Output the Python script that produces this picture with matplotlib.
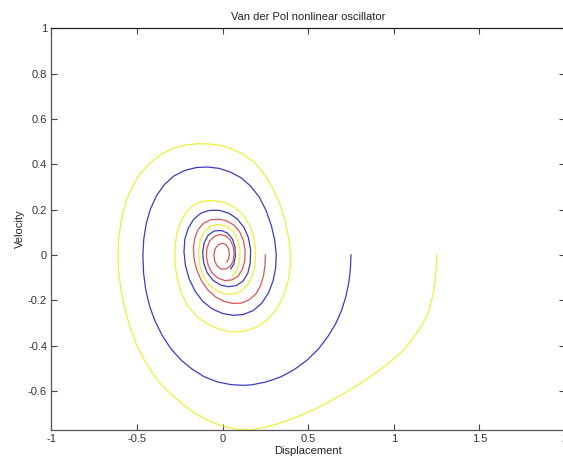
"""Van der Pol nonlinear oscillator: phase portrait of three trajectories."""

import matplotlib
matplotlib.use("Agg")
import matplotlib.pyplot as plt

# Trajectory (displacement, velocity)
yellow_x = [1.250, 1.249, 1.243, 1.230, 1.212, 1.186, 1.146, 1.102, 1.057, 0.990, 0.920,
            0.826, 0.726, 0.630, 0.530, 0.430, 0.336, 0.250, 0.160, 0.080, 0.000,
            -0.085, -0.160, -0.230, -0.300, -0.360, -0.410, -0.455, -0.500, -0.540, -0.570,
            -0.592, -0.605, -0.610, -0.605, -0.590, -0.562, -0.525, -0.480, -0.425, -0.360,
            -0.290, -0.215, -0.140, -0.090, -0.020, 0.050, 0.120, 0.185, 0.240, 0.290,
            0.330, 0.362, 0.385, 0.396, 0.396, 0.383, 0.355, 0.315, 0.260, 0.195,
            0.125, 0.060, -0.010, -0.080, -0.145, -0.200, -0.240, -0.265, -0.278, -0.278,
            -0.268, -0.245, -0.210, -0.165, -0.110, -0.050, 0.010, 0.070, 0.120, 0.158,
            0.182, 0.193, 0.190, 0.175, 0.148, 0.110, 0.065, 0.015, -0.035, -0.080,
            -0.115, -0.135, -0.140, -0.130, -0.105, -0.068, -0.025, 0.020, 0.060, 0.088,
            0.102, 0.100, 0.085, 0.058]
yellow_y = [0.000, -0.050, -0.110, -0.170, -0.230, -0.280, -0.333, -0.378, -0.419, -0.465, -0.507,
            -0.556, -0.603, -0.645, -0.684, -0.716, -0.742, -0.760, -0.772, -0.768, -0.755,
            -0.730, -0.700, -0.660, -0.615, -0.570, -0.520, -0.465, -0.400, -0.320, -0.240,
            -0.160, -0.080, 0.000, 0.080, 0.160, 0.240, 0.305, 0.360, 0.405, 0.443,
            0.470, 0.485, 0.491, 0.490, 0.485, 0.470, 0.445, 0.410, 0.360, 0.300,
            0.235, 0.160, 0.080, 0.010, -0.050, -0.115, -0.182, -0.240, -0.287, -0.320,
            -0.337, -0.340, -0.330, -0.308, -0.275, -0.228, -0.170, -0.105, -0.035, 0.030,
            0.090, 0.145, 0.190, 0.222, 0.238, 0.240, 0.232, 0.212, 0.178, 0.132,
            0.078, 0.020, -0.040, -0.090, -0.130, -0.158, -0.172, -0.172, -0.158, -0.130,
            -0.090, -0.040, 0.015, 0.065, 0.105, 0.128, 0.135, 0.128, 0.105, 0.070,
            0.025, -0.025, -0.065, -0.092]

blue_x = [0.750, 0.747, 0.738, 0.720, 0.695, 0.660, 0.615, 0.560, 0.495, 0.420,
          0.340, 0.255, 0.170, 0.120, 0.050, -0.030, -0.105, -0.175, -0.240, -0.300,
          -0.350, -0.392, -0.425, -0.448, -0.461, -0.465, -0.460, -0.445, -0.420, -0.385,
          -0.340, -0.285, -0.220, -0.150, -0.085, -0.020, 0.045, 0.110, 0.165, 0.215,
          0.255, 0.285, 0.305, 0.314, 0.310, 0.295, 0.268, 0.230, 0.180, 0.120,
          0.060, 0.000, -0.060, -0.115, -0.160, -0.195, -0.217, -0.225, -0.220, -0.200,
          -0.168, -0.125, -0.075, -0.020, 0.035, 0.085, 0.125, 0.152, 0.164, 0.162,
          0.148, 0.120, 0.080, 0.035, -0.010, -0.055, -0.090, -0.110, -0.116, -0.107,
          -0.083, -0.048, -0.008, 0.030, 0.058, 0.073, 0.075, 0.066, 0.048]
blue_y = [0.000, -0.060, -0.120, -0.185, -0.245, -0.305, -0.360, -0.415, -0.463, -0.505,
          -0.538, -0.560, -0.573, -0.575, -0.572, -0.560, -0.538, -0.505, -0.465, -0.415,
          -0.358, -0.295, -0.228, -0.155, -0.080, 0.000, 0.070, 0.140, 0.205, 0.262,
          0.310, 0.348, 0.373, 0.386, 0.388, 0.382, 0.366, 0.340, 0.303, 0.255,
          0.195, 0.130, 0.065, 0.000, -0.060, -0.115, -0.168, -0.212, -0.245, -0.263,
          -0.266, -0.258, -0.238, -0.205, -0.160, -0.105, -0.045, 0.015, 0.070, 0.118,
          0.158, 0.185, 0.197, 0.197, 0.185, 0.160, 0.122, 0.075, 0.020, -0.035,
          -0.080, -0.115, -0.135, -0.140, -0.133, -0.112, -0.078, -0.035, 0.012, 0.055,
          0.088, 0.106, 0.108, 0.096, 0.070, 0.035, -0.005, -0.040, -0.062]

red_x = [0.250, 0.248, 0.240, 0.222, 0.195, 0.155, 0.110, 0.060, 0.010, -0.040,
         -0.085, -0.122, -0.150, -0.166, -0.170, -0.162, -0.142, -0.110, -0.070, -0.025,
         0.020, 0.065, 0.100, 0.122, 0.132, 0.130, 0.116, 0.090, 0.055, 0.015,
         -0.025, -0.060, -0.083, -0.094, -0.091, -0.075, -0.048, -0.015, 0.018, 0.045,
         0.062, 0.068, 0.062, 0.045, 0.020, -0.008, -0.032, -0.046, -0.050, -0.043,
         -0.025, -0.002, 0.020, 0.035, 0.040, 0.034, 0.025]
red_y = [0.000, -0.045, -0.090, -0.135, -0.172, -0.198, -0.212, -0.214, -0.205, -0.185,
         -0.155, -0.115, -0.068, -0.018, 0.030, 0.075, 0.113, 0.140, 0.155, 0.158,
         0.152, 0.133, 0.103, 0.064, 0.020, -0.025, -0.064, -0.094, -0.110, -0.113,
         -0.103, -0.080, -0.047, -0.008, 0.030, 0.062, 0.082, 0.090, 0.085, 0.066,
         0.038, 0.005, -0.027, -0.050, -0.062, -0.062, -0.048, -0.025, 0.002, 0.028,
         0.045, 0.052, 0.046, 0.028, 0.004, -0.018, -0.032]

x_ticks = [-1, -0.5, 0, 0.5, 1, 1.5, 2]
x_tick_labels = ["-1", "-0.5", "0", "0.5", "1", "1.5", "2"]
y_ticks = [-0.6, -0.4, -0.2, 0, 0.2, 0.4, 0.6, 0.8, 1]
y_tick_labels = ["-0.6", "-0.4", "-0.2", "0", "0.2", "0.4", "0.6", "0.8", "1"]

plt.rcParams["font.family"] = ["Liberation Sans", "DejaVu Sans"]
plt.rcParams["axes.unicode_minus"] = False

fig = plt.figure(figsize=(5.63, 4.62), dpi=100)
ax = fig.add_axes([0.0911, 0.0693, 0.9124, 0.8695])

ax.plot(yellow_x, yellow_y, color="#f0ee3a", linewidth=0.9)
ax.plot(blue_x, blue_y, color="#3c3cbc", linewidth=0.9)
ax.plot(red_x, red_y, color="#d65656", linewidth=0.9)

ax.set_xlim(-1, 2)
ax.set_ylim(-0.772, 1)
ax.set_xticks(x_ticks)
ax.set_xticklabels(x_tick_labels)
ax.set_yticks(y_ticks)
ax.set_yticklabels(y_tick_labels)
ax.tick_params(direction="in", length=4, width=0.8, colors="#444444",
               labelsize=8, labelcolor="#333333", top=True, right=True, pad=3)

for side in ("left", "bottom"):
    ax.spines[side].set_color("#555555")
for side in ("top", "right"):
    ax.spines[side].set_color("#222222")
for sp in ax.spines.values():
    sp.set_linewidth(0.9)

ax.set_title("Van der Pol nonlinear oscillator", fontsize=8, color="#222222", pad=6)
ax.set_xlabel("Displacement", fontsize=8, color="#222222", labelpad=1)
ax.set_ylabel("Velocity", fontsize=8, color="#222222", labelpad=2)

fig.savefig("out.png", dpi=100)
plt.close(fig)
